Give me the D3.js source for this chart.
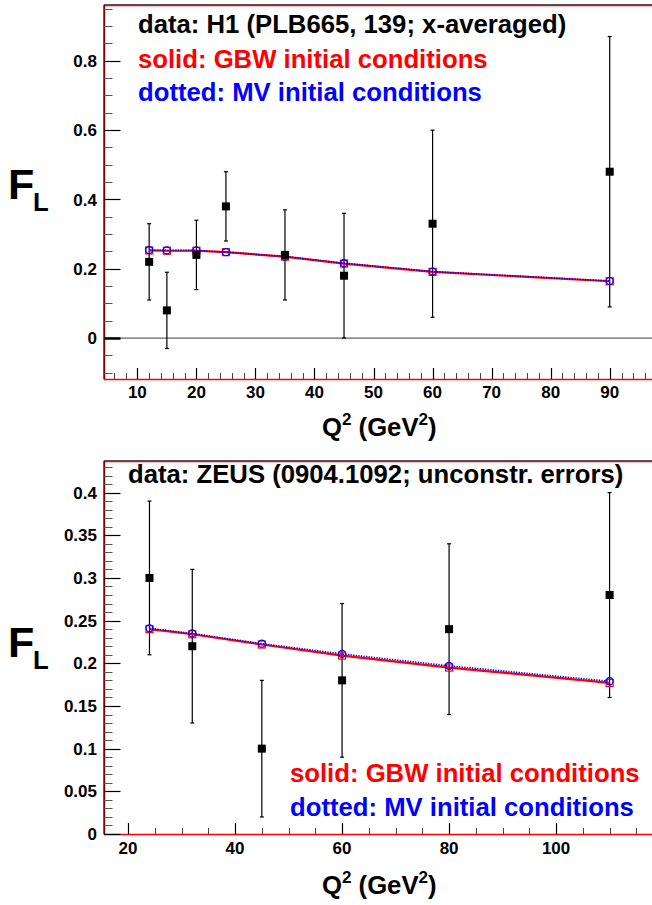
<html>
<head>
<script src="https://cdn.jsdelivr.net/npm/d3@7"></script>
<style>
  body { margin: 0; background: #fff; }
  text { font-family: "Liberation Sans", Arial, Helvetica, sans-serif; font-weight: bold; }
</style>
</head>
<body>
<script>
// H1 data (top panel)
var h1Q2 = [12, 15, 20, 25, 35, 45, 60, 90];
var h1FL = [0.22, 0.08, 0.24, 0.38, 0.24, 0.18, 0.33, 0.48];
var h1Lo = [0.11, -0.03, 0.14, 0.28, 0.11, 0.00, 0.06, 0.09];
var h1Hi = [0.33, 0.19, 0.34, 0.48, 0.37, 0.36, 0.60, 0.87];
var h1GBW = [0.253, 0.252, 0.252, 0.248, 0.235, 0.215, 0.191, 0.164];
var h1MV = [0.254, 0.253, 0.253, 0.248, 0.235, 0.216, 0.192, 0.165];

// ZEUS data (bottom panel)
var zeusQ2 = [24, 32, 45, 60, 80, 110];
var zeusFL = [0.30, 0.22, 0.10, 0.18, 0.24, 0.28];
var zeusLo = [0.21, 0.13, 0.02, 0.09, 0.14, 0.16];
var zeusHi = [0.39, 0.31, 0.18, 0.27, 0.34, 0.40];
var zeusGBW = [0.240, 0.234, 0.222, 0.209, 0.195, 0.177];
var zeusMV = [0.241, 0.235, 0.223, 0.211, 0.197, 0.179];

var h1XTicks = [10, 20, 30, 40, 50, 60, 70, 80, 90];
var h1YTicks = [0, 0.2, 0.4, 0.6, 0.8];
var zeusXTicks = [20, 40, 60, 80, 100];
var zeusYTicks = [0, 0.05, 0.1, 0.15, 0.2, 0.25, 0.3, 0.35, 0.4];

var svg = d3.select("body").append("svg")
    .attr("width", 652).attr("height", 905);

function panel(o) {
    var x = d3.scaleLinear().domain(o.xdom).range([104, 654]);
    var y = d3.scaleLinear().domain(o.ydom).range([o.bottom, o.top]);
    var g = svg.append("g");

    // frame
    g.append("rect").attr("x", 104.5).attr("y", o.top + 0.5)
        .attr("width", 560).attr("height", o.bottom - o.top)
        .attr("fill", "none").attr("stroke", "#f00").attr("stroke-width", 1.5);
    g.append("line").attr("x1", 104).attr("x2", 104).attr("y1", o.top).attr("y2", o.bottom)
        .attr("stroke", "#300").attr("stroke-width", 1.2);
    g.append("line").attr("x1", 104).attr("x2", 652).attr("y1", o.top - 0.5).attr("y2", o.top - 0.5)
        .attr("stroke", "#555").attr("stroke-width", 1.2);

    // zero line
    if (o.zeroLine) {
        g.append("line").attr("x1", 104).attr("x2", 652)
            .attr("y1", y(0)).attr("y2", y(0))
            .attr("stroke", "#666").attr("stroke-width", 1.2);
    }

    // y ticks
    var yMinor = d3.range(Math.ceil(o.ydom[0] / o.yMinor - 1e-6), Math.floor(o.ydom[1] / o.yMinor + 1e-6) + 1)
        .map(function (k) { return k * o.yMinor; });
    g.selectAll(".ymin").data(yMinor).enter().append("line")
        .attr("x1", 104).attr("x2", 112.5)
        .attr("y1", function (d) { return Math.round(y(d)) + 0.5; })
        .attr("y2", function (d) { return Math.round(y(d)) + 0.5; })
        .attr("stroke", "#555").attr("stroke-width", 1);
    g.selectAll(".ymaj").data(o.yTicks).enter().append("line")
        .attr("x1", 104).attr("x2", 120.5)
        .attr("y1", function (d) { return Math.round(y(d)) + 0.5; })
        .attr("y2", function (d) { return Math.round(y(d)) + 0.5; })
        .attr("stroke", "#000").attr("stroke-width", function (d) { return d === 0 && o.zeroLine ? 2.5 : 1.2; });
    g.selectAll(".ylab").data(o.yTicks).enter().append("text")
        .attr("x", 97).attr("y", function (d) { return y(d); })
        .attr("dy", "0.36em").attr("text-anchor", "end")
        .attr("font-size", 17)
        .text(function (d) { return d3.format("")(+d.toFixed(2)); });

    // x ticks
    var xMinor = d3.range(Math.ceil(o.xdom[0] / o.xMinor), Math.floor(o.xdom[1] / o.xMinor) + 1)
        .map(function (k) { return k * o.xMinor; });
    g.selectAll(".xmin").data(xMinor).enter().append("line")
        .attr("x1", function (d) { return Math.round(x(d)) + 0.5; })
        .attr("x2", function (d) { return Math.round(x(d)) + 0.5; })
        .attr("y1", o.bottom).attr("y2", o.bottom - 6)
        .attr("stroke", "#444").attr("stroke-width", 1);
    g.selectAll(".xmaj").data(o.xTicks).enter().append("line")
        .attr("x1", function (d) { return Math.round(x(d)) + 0.5; })
        .attr("x2", function (d) { return Math.round(x(d)) + 0.5; })
        .attr("y1", o.bottom).attr("y2", o.bottom - 11)
        .attr("stroke", "#000").attr("stroke-width", 1.2);
    g.selectAll(".xlab").data(o.xTicks).enter().append("text")
        .attr("x", function (d) { return x(d); }).attr("y", o.xLabY)
        .attr("text-anchor", "middle").attr("font-size", 17)
        .text(function (d) { return d; });

    // axis titles
    var xt = g.append("text").attr("x", 322).attr("y", o.xTitleY).attr("font-size", 25.7);
    xt.append("tspan").text("Q");
    xt.append("tspan").attr("font-size", 17).attr("dy", -11).text("2");
    xt.append("tspan").attr("dy", 11).text(" (GeV");
    xt.append("tspan").attr("font-size", 17).attr("dy", -11).text("2");
    xt.append("tspan").attr("dy", 11).text(")");

    g.append("text").attr("x", 8).attr("y", o.fY).attr("font-size", 43).text("F");
    g.append("text").attr("x", 33).attr("y", o.fY + 12).attr("font-size", 25.7).text("L");

    // data error bars
    var data = o.q2.map(function (q, i) {
        return { q: q, v: o.fl[i], lo: o.lo[i], hi: o.hi[i] };
    });
    g.selectAll(".err").data(data).enter().append("line")
        .attr("x1", function (d) { return x(d.q); }).attr("x2", function (d) { return x(d.q); })
        .attr("y1", function (d) { return y(d.lo); }).attr("y2", function (d) { return y(d.hi); })
        .attr("stroke", "#000").attr("stroke-width", 1.2);
    ["lo", "hi"].forEach(function (k) {
        g.selectAll(".cap" + k).data(data).enter().append("line")
            .attr("x1", function (d) { return x(d.q) - 2; }).attr("x2", function (d) { return x(d.q) + 2; })
            .attr("y1", function (d) { return y(d[k]); }).attr("y2", function (d) { return y(d[k]); })
            .attr("stroke", "#000").attr("stroke-width", 1.2);
    });

    // theory curves
    var gbw = o.q2.map(function (q, i) { return [q, o.gbw[i]]; });
    var mv = o.q2.map(function (q, i) { return [q, o.mv[i]]; });
    var line = d3.line().x(function (d) { return x(d[0]); }).y(function (d) { return y(d[1]); });

    g.append("path").attr("d", line(gbw)).attr("fill", "none")
        .attr("stroke", "#f00").attr("stroke-width", 2.2);
    g.selectAll(".gbw").data(gbw).enter().append("rect")
        .attr("x", function (d) { return x(d[0]) - 3.5; }).attr("y", function (d) { return y(d[1]) - 3.5; })
        .attr("width", 7).attr("height", 7)
        .attr("fill", "none").attr("stroke", "#f00").attr("stroke-width", 1.2);
    g.append("path").attr("d", line(mv)).attr("fill", "none")
        .attr("stroke", "#00f").attr("stroke-width", 1.6).attr("stroke-dasharray", "1.3,1.3");
    g.selectAll(".mv").data(mv).enter().append("circle")
        .attr("cx", function (d) { return x(d[0]); }).attr("cy", function (d) { return y(d[1]); })
        .attr("r", 3.5)
        .attr("fill", "none").attr("stroke", "#00f").attr("stroke-width", 1.3);

    // data markers
    g.selectAll(".pt").data(data).enter().append("rect")
        .attr("x", function (d) { return x(d.q) - 4; }).attr("y", function (d) { return y(d.v) - 4; })
        .attr("width", 8).attr("height", 8).attr("fill", "#000");

    // legend texts
    o.texts.forEach(function (t) {
        g.append("text").attr("x", t.x).attr("y", t.y).attr("font-size", 25.7)
            .attr("fill", t.c).text(t.s);
    });
}

panel({
    top: 5, bottom: 379, xdom: [4.35, 97.5], ydom: [-0.118, 0.961],
    q2: h1Q2, fl: h1FL, lo: h1Lo, hi: h1Hi, gbw: h1GBW, mv: h1MV,
    xTicks: h1XTicks, yTicks: h1YTicks, xMinor: 2, yMinor: 0.05,
    zeroLine: true, xLabY: 398, xTitleY: 436, fY: 199,
    texts: [
        { x: 138, y: 33, c: "#000", s: "data: H1 (PLB665, 139; x-averaged)" },
        { x: 138, y: 68, c: "#f00", s: "solid: GBW initial conditions" },
        { x: 138, y: 101, c: "#00f", s: "dotted: MV initial conditions" }
    ]
});

panel({
    top: 461, bottom: 834, xdom: [15.5, 118.3], ydom: [0, 0.437],
    q2: zeusQ2, fl: zeusFL, lo: zeusLo, hi: zeusHi, gbw: zeusGBW, mv: zeusMV,
    xTicks: zeusXTicks, yTicks: zeusYTicks, xMinor: 5, yMinor: 0.01,
    zeroLine: false, xLabY: 854, xTitleY: 894, fY: 657,
    texts: [
        { x: 128, y: 483, c: "#000", s: "data: ZEUS (0904.1092; unconstr. errors)" },
        { x: 290, y: 782, c: "#f00", s: "solid: GBW initial conditions" },
        { x: 290, y: 816, c: "#00f", s: "dotted: MV initial conditions" }
    ]
});
</script>
</body>
</html>
